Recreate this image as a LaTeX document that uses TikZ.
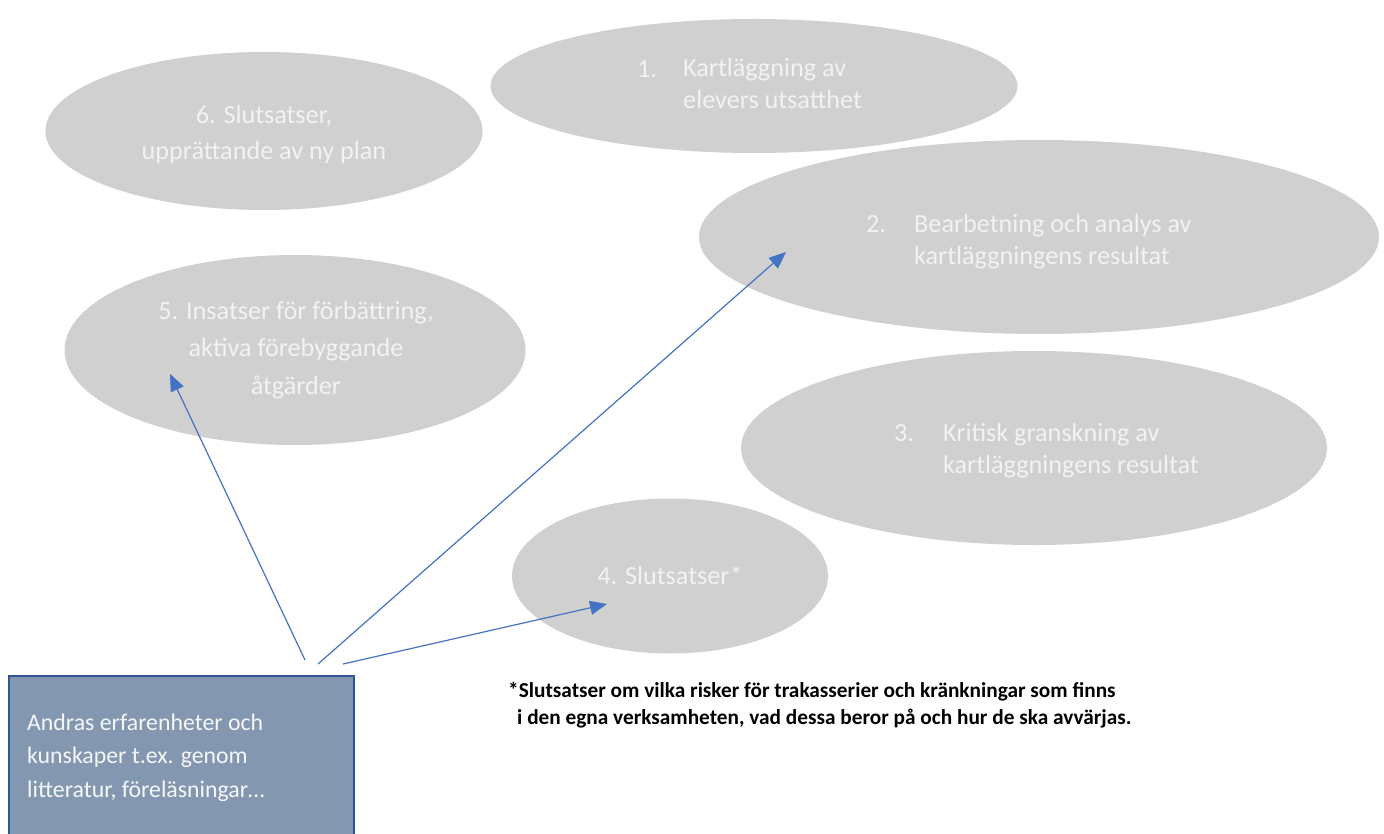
\documentclass[tikz,border=0pt]{standalone}
\usepackage{fontspec}
\setmainfont{Carlito}
\usetikzlibrary{arrows.meta,shapes.geometric}
\definecolor{ellgray}{HTML}{D0D0D0}
\definecolor{elltext}{HTML}{F2F2F2}
\definecolor{boxfill}{HTML}{8497B0}
\definecolor{boxline}{HTML}{2F5597}
\definecolor{arrowblue}{HTML}{4472C4}
\tikzset{
  ell/.style={ellipse, fill=ellgray, draw=none, inner sep=0pt},
  etext/.style={text=elltext, font=\fontsize{26.2}{32}\selectfont, inner sep=0pt},
  ctext/.style={etext, align=center},
  ltext/.style={etext, align=left, anchor=base west},
  btext/.style={text=white!92!boxfill, font=\fontsize{23.8}{33.5}\selectfont, align=left, inner sep=0pt, anchor=base west},
  srcbox/.style={fill=boxfill, draw=boxline, line width=2.2pt, inner sep=0pt},
  conn/.style={draw=arrowblue, line width=1.2pt, -{Triangle[length=17pt,width=14pt]}},
  note/.style={text=black, font=\bfseries\fontsize{21.3}{27}\selectfont, align=left, inner sep=0pt, anchor=base west}
}
\begin{document}
\begin{tikzpicture}[x=1pt,y=-1pt]
\useasboundingbox (0,0) rectangle (1384,834);
\clip (0,0) rectangle (1384,834);
% ellipses
\node[ell, minimum width=527, minimum height=134] (e1) at (754,86) {};
\node[ell, minimum width=437, minimum height=158] (e6) at (264,131) {};
\node[ell, minimum width=680, minimum height=194] (e2) at (1039,237) {};
\node[ell, minimum width=461, minimum height=190] (e5) at (295,350) {};
\node[ell, minimum width=586, minimum height=194] (e3) at (1034,448) {};
\node[ell, minimum width=316, minimum height=155] (e4) at (670,576) {};
% texts
\node[ctext, font=\fontsize{26.2}{36}\selectfont] (t6) at (264,135) {6. Slutsatser,\\upprättande av ny plan};
\node[ltext] (n1) at (637,78) {1.};
\node[ltext] (t1) at (683,109) {Kartläggning av\\elevers utsatthet};
\node[ltext] (n2) at (866,233) {2.};
\node[ltext] (t2) at (914,265) {Bearbetning och analys av\\kartläggningens resultat};
\node[ctext, font=\fontsize{26.2}{37.5}\selectfont] (t5) at (296,350) {5. Insatser för förbättring,\\aktiva förebyggande\\åtgärder};
\node[ltext] (n3) at (894,441) {3.};
\node[ltext] (t3) at (943,473) {Kritisk granskning av\\kartläggningens resultat};
\node[ctext] (t4) at (670,575) {4. Slutsatser*};
% source box
\node[srcbox, anchor=north west, minimum width=345, minimum height=180] (src) at (8,675) {};
\node[btext] (srct) at (27,797) {Andras erfarenheter och\\kunskaper t.ex. genom\\litteratur, föreläsningar…};
% footnote
\node[note] (fn) at (508,724) {*Slutsatser om vilka risker för trakasserier och kränkningar som finns\\\hspace*{9pt}i den egna verksamheten, vad dessa beror på och hur de ska avvärjas.};
% connectors
\coordinate (s5) at (305,660);
\coordinate (s2) at (318,664);
\coordinate (s4) at (343,664);
\coordinate (h5) at (170,374);
\coordinate (h2) at (786,252);
\coordinate (h4) at (607,604);
\draw[conn] (s5) -- (h5);
\draw[conn] (s2) -- (h2);
\draw[conn] (s4) -- (h4);
\end{tikzpicture}
\end{document}
